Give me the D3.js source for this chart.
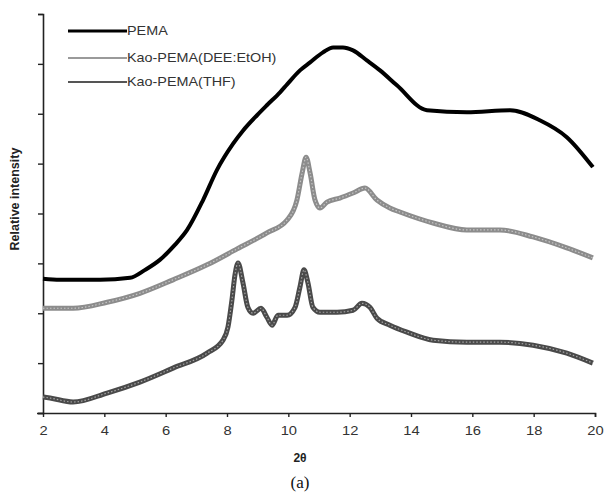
<!DOCTYPE html>
<html><head><meta charset="utf-8">
<script src="https://cdn.jsdelivr.net/npm/d3@7"></script>
<style>body{margin:0;background:#fff}svg{display:block}</style>
</head><body>
<svg id="c" width="605" height="495"></svg>
<script>
const seriesNames = ["PEMA", "Kao-PEMA(DEE:EtOH)", "Kao-PEMA(THF)"];
const xTicks = [2,4,6,8,10,12,14,16,18,20];
const yTicks = [0,1,2,3,4,5,6,7,8];

const pemaX = [2.0,2.55,3.86,4.84,5.33,5.81,6.3,6.7,7.22,7.67,8.2,8.52,8.98,9.3,9.73,9.96,10.38,10.71,11.13,11.46,11.78,12.11,12.56,12.99,13.54,14.52,15.82,17.23,18.2,19.08,19.93];
const pemaY = [2.69,2.67,2.67,2.71,2.87,3.07,3.37,3.67,4.27,4.87,5.40,5.66,5.97,6.17,6.43,6.59,6.87,7.03,7.23,7.33,7.33,7.27,7.07,6.87,6.57,6.07,6.03,6.07,5.87,5.53,4.93];

const deeX = [2.0,2.98,4.09,5.16,6.24,7.35,8.33,9.3,9.96,10.28,10.45,10.58,10.71,10.87,11.03,11.26,11.68,12.11,12.5,12.89,13.31,13.64,14.72,15.82,16.9,17.98,19.08,19.93];
const deeY = [2.10,2.10,2.22,2.40,2.67,2.97,3.29,3.61,3.87,4.27,4.81,5.13,4.81,4.27,4.11,4.23,4.31,4.41,4.51,4.27,4.11,4.03,3.81,3.67,3.67,3.53,3.31,3.11];

const thfX = [2.0,2.23,2.98,4.09,5.16,6.24,7.35,7.87,8.03,8.16,8.26,8.36,8.52,8.68,8.85,9.11,9.3,9.47,9.66,9.96,10.22,10.38,10.51,10.64,10.8,11.03,11.59,12.11,12.4,12.66,12.89,13.31,13.87,14.72,15.82,16.9,17.98,19.08,19.93];
const thfY = [0.32,0.30,0.22,0.40,0.62,0.90,1.20,1.46,1.72,2.26,2.77,3.01,2.61,2.12,2.00,2.10,1.92,1.76,1.96,1.96,2.12,2.53,2.87,2.61,2.12,2.02,2.02,2.06,2.20,2.12,1.90,1.76,1.62,1.46,1.42,1.42,1.36,1.20,1.00];

const FONT = "'Liberation Sans', Arial, sans-serif";
const svg = d3.select("#c");
const x = d3.scaleLinear().domain([2,20]).range([43,595]);
const y = d3.scaleLinear().domain([0,8]).range([413,14]);

// axes
const xAxis = svg.append("g").attr("transform","translate(0,413)")
  .call(d3.axisBottom(x).tickValues(xTicks).tickSize(4).tickPadding(9).tickFormat(d3.format("d")));
const yAxis = svg.append("g").attr("transform","translate(43,0)")
  .call(d3.axisLeft(y).tickValues(yTicks).tickSize(5).tickFormat(""));
[xAxis,yAxis].forEach(a=>{
  a.select(".domain").attr("stroke","#222").attr("stroke-width",1.6);
  a.selectAll(".tick line").attr("stroke","#222").attr("stroke-width",1.4);
});
xAxis.select(".domain").attr("d","M37,0.5H595.5V4");
xAxis.selectAll(".tick text").attr("font-family",FONT)
  .attr("font-size",12.5).attr("fill","#333").attr("transform","scale(1.18,1)");

const line = d3.line().x(d=>x(d[0])).y(d=>y(d[1])).curve(d3.curveMonotoneX);
const series = [
  {xs:pemaX, ys:pemaY, color:"#000", w:4},
  {xs:deeX, ys:deeY, color:"#8c8c8c", w:5},
  {xs:thfX, ys:thfY, color:"#4a4a4a", w:5}
];
series.forEach(s=>{
  const pts = s.xs.map((v,i)=>[v,s.ys[i]]);
  svg.append("path").datum(pts).attr("d",line).attr("fill","none")
    .attr("stroke",s.color).attr("stroke-width",s.w).attr("stroke-linejoin","round");
  if (s.color !== "#000") {
    svg.append("path").datum(pts).attr("d",line).attr("fill","none")
      .attr("stroke","#fff").attr("stroke-opacity",0.5).attr("stroke-width",1.2)
      .attr("stroke-dasharray","1.5,2");
  }
});

// legend
const legY = [31,58,82];
const legW = [3,2,2];
const legC = ["#000","#9a9a9a","#555"];
seriesNames.forEach((n,i)=>{
  svg.append("line").attr("x1",68).attr("x2",127).attr("y1",legY[i]).attr("y2",legY[i])
    .attr("stroke",legC[i]).attr("stroke-width",legW[i]);
  svg.append("text").attr("transform",`translate(127,${legY[i]}) scale(1.15,1)`).attr("dy","0.35em")
    .attr("font-family",FONT).attr("font-size",12.5)
    .attr("fill","#333").text(n);
});

// labels
svg.append("text").attr("transform","translate(19,199) rotate(-90)")
  .attr("text-anchor","middle").attr("font-family",FONT)
  .attr("font-weight","bold").attr("font-size",12.5).attr("fill","#222").text("Relative intensity");
svg.append("text").attr("x",300).attr("y",458).attr("dy","0.35em").attr("text-anchor","middle")
  .attr("font-family",FONT).attr("font-weight","bold")
  .attr("font-size",12).attr("fill","#222").text("2θ");
svg.append("text").attr("x",300).attr("y",482).attr("dy","0.35em").attr("text-anchor","middle")
  .attr("font-family","'Liberation Serif', 'Times New Roman', serif")
  .attr("font-size",17).attr("fill","#111").text("(a)");
</script>
</body></html>
